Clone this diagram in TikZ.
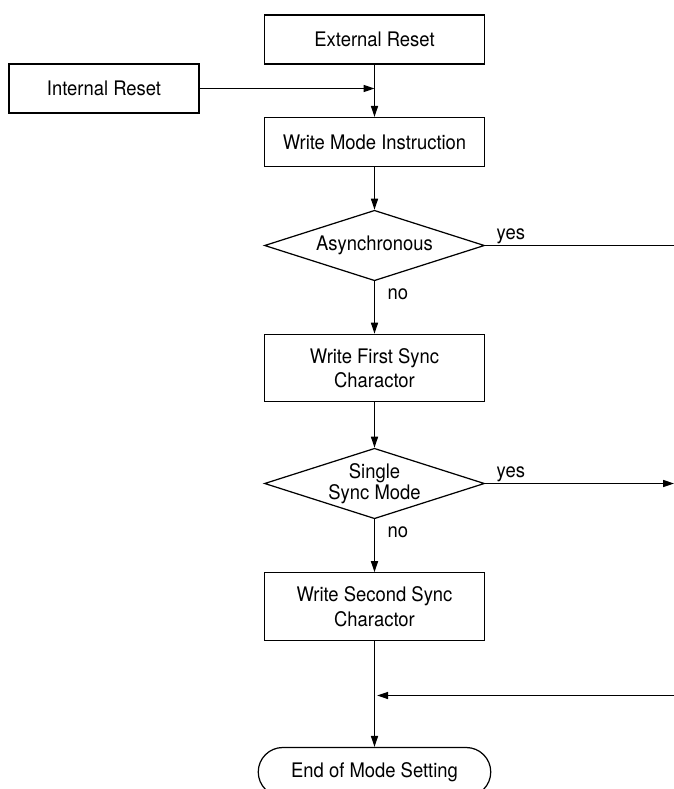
\documentclass[tikz,border=0pt]{standalone}
\usepackage{fontspec}
\setmainfont{TeX Gyre Heros}[FakeStretch=0.92]
\usepackage{tikz}
\usetikzlibrary{arrows.meta, shapes.geometric, positioning, calc}

\begin{document}
\begin{tikzpicture}[line width=0.7pt, >={Triangle[length=6.2pt,width=4pt]},
  txt/.style={font=\fontsize{11.4}{13.9}\selectfont},
  stepbox/.style={txt, draw, rectangle, align=center, minimum width=4.4cm, minimum height=0.98cm, inner sep=0pt},
  tallbox/.style={stepbox, minimum height=1.35cm},
  decide/.style={draw, diamond, aspect=3.14, align=center, inner sep=0pt, minimum width=4.4cm, minimum height=1.41cm, font=\fontsize{11.4}{10.8}\selectfont},
  stopbox/.style={txt, draw, rectangle, rounded corners=0.49cm, minimum width=4.65cm, minimum height=0.98cm, inner sep=0pt},
  branch/.style={txt, anchor=base west, inner sep=0pt}]
\useasboundingbox (0,0) rectangle (13.48,-15.78);
\node[stepbox] (ext) at (7.49,-0.79) {External Reset};
\node[stepbox, minimum width=3.8cm] (int) at (2.08,-1.77) {Internal Reset};
\node[stepbox] (mode) at (7.49,-2.84) {Write Mode Instruction};
\node[decide] (async) at (7.49,-4.91) {Asynchronous};
\node[tallbox] (first) at (7.49,-7.36) {Write First Sync\\Charactor};
\node[decide] (single) at (7.49,-9.67) {Single\\Sync Mode};
\node[tallbox] (second) at (7.49,-12.13) {Write Second Sync\\Charactor};
\node[stopbox] (end) at (7.49,-15.44) {End of Mode Setting};
\coordinate (ayes) at (13.48,-4.91);
\coordinate (syes) at (13.48,-9.67);
\coordinate (ret) at (13.48,-13.91);
\coordinate (j1) at (ext.south |- int.east);
\coordinate (j2) at (second.south |- ret);
\node[branch] (yes1) at ([xshift=0.22cm,yshift=0.12cm]async.east) {yes};
\node[branch] (no1) at ([xshift=0.25cm,yshift=-0.37cm]async.south) {no};
\node[branch] (yes2) at ([xshift=0.22cm,yshift=0.12cm]single.east) {yes};
\node[branch] (no2) at ([xshift=0.25cm,yshift=-0.37cm]single.south) {no};
\draw[->] (ext) -- (mode);
\draw[->] (int) -- (j1);
\draw[->] (mode) -- (async);
\draw (async) -- (ayes);
\draw[->] (async) -- (first);
\draw[->] (first) -- (single);
\draw[->] (single) -- (syes);
\draw[->] (single) -- (second);
\draw[->] (second) -- (end);
\draw[->, shorten >=1.5pt] (ret) -- (j2);
\end{tikzpicture}
\end{document}
